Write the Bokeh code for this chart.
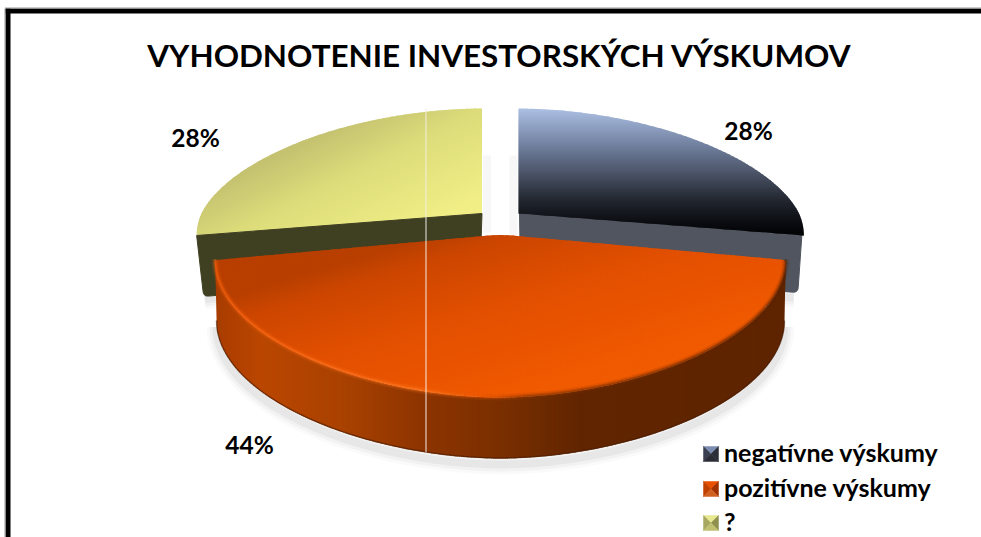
import numpy as np
from bokeh.plotting import figure
from bokeh.embed import file_html
from bokeh.resources import INLINE
from bokeh.core.properties import value

TITLE = "VYHODNOTENIE INVESTORSKÝCH VÝSKUMOV"
categories = ["negatívne výskumy", "pozitívne výskumy", "?"]
values = [28, 44, 28]
pct_labels = ["28%", "44%", "28%"]

FONT = value("Lato")
p = figure(width=981, height=537, x_range=(0, 981), y_range=(537, 0),
           output_backend="svg", toolbar_location=None, min_border=0,
           outline_line_color=None, background_fill_color="white")
p.margin = (0, 0, 0, 0)
p.axis.visible = False
p.grid.visible = False

K, S, RX, E = 0.2135, 127.4, 280.5, 1.07
DEPTH = 59


def hex2rgb(h):
    return np.array([int(h[i:i + 2], 16) for i in (1, 3, 5)], float)


def ramp(stops, t):
    ts = [s[0] for s in stops]
    cs = np.array([hex2rgb(s[1]) for s in stops])
    r = [np.interp(t, ts, cs[:, i]) for i in range(3)]
    return "#%02x%02x%02x" % tuple(int(round(c)) for c in r)


def arc(cx, cy, a0, a1, n=200):
    th = np.radians(np.linspace(a0, a1, n))
    u, v = np.sin(th), -np.cos(th)
    u = np.sign(u) * np.abs(u) ** E
    v = np.sign(v) * np.abs(v) ** E
    w = 1 - K * v
    return cx + RX * u / w, cy + S * v / w


def rounded(xs, ys, idx, r):
    """Replace the polygon corners listed in idx by small quadratic curves."""
    P = np.column_stack([xs, ys]).astype(float)
    n = len(P)
    out = []
    for i in range(n):
        if i in idx:
            a, b, c = P[(i - 1) % n], P[i], P[(i + 1) % n]
            s = b + (a - b) / np.linalg.norm(a - b) * r
            e = b + (c - b) / np.linalg.norm(c - b) * r
            for t in np.linspace(0, 1, 8):
                out.append((1 - t) ** 2 * s + 2 * t * (1 - t) * b + t ** 2 * e)
        else:
            out.append(P[i])
    out = np.array(out)
    return out[:, 0], out[:, 1]


def clip(poly, d, t, keep_above):
    out = []
    n = len(poly)
    for i in range(n):
        a, b = poly[i], poly[(i + 1) % n]
        fa = a[0] * d[0] + a[1] * d[1] - t
        fb = b[0] * d[0] + b[1] * d[1] - t
        if not keep_above:
            fa, fb = -fa, -fb
        if fa >= 0:
            out.append(a)
        if (fa >= 0) != (fb >= 0):
            s = fa / (fa - fb)
            out.append((a[0] + s * (b[0] - a[0]), a[1] + s * (b[1] - a[1])))
    return out


def gradient(xs, ys, d, stops, step=2.0):
    poly = list(zip(xs, ys))
    ts = [x * d[0] + y * d[1] for x, y in poly]
    bx, by, cols = [], [], []
    t = min(ts)
    while t < max(ts):
        c = clip(clip(poly, d, t, True), d, t + step + 1.0, False)
        if len(c) >= 3:
            bx.append([q[0] for q in c])
            by.append([q[1] for q in c])
            cols.append(ramp(stops, t + step / 2))
        t += step
    p.patches(bx, by, fill_color=cols, line_color=None)


def soft_shadow(xs, ys, dy=6):
    for w, a in ((20, 0.02), (14, 0.03), (8, 0.045)):
        p.line(xs, np.asarray(ys) + dy, line_color="black", line_width=w, line_alpha=a)


# angles from the data
cum = np.cumsum([0] + values) / sum(values) * 360.0
a_blue = (cum[0], cum[1])
a_orange = (cum[1], cum[2])
a_yellow = (cum[2], cum[3])

# ---------- yellow slice
YX, YY = 481.5, 213
ax, ay = arc(YX, YY, *a_yellow)
top_x = np.r_[YX, ax]
top_y = np.r_[YY, ay]
ex, ey = ax[0], ay[0]
side_x = [YX, ex, ex + 7, YX - 2]
side_y = [YY, ey, ey + DEPTH + 2, YY + DEPTH]
side_x, side_y = rounded(side_x, side_y, {2}, 5)
soft_shadow([ex + 8, ex + 60], [ey + DEPTH, ey + DEPTH - 6], dy=5)
p.line([YX + 5, YX + 5], [155, 232], line_color="black", line_width=8, line_alpha=0.03)
gradient(top_x, top_y, (0.5, 1.0),
         [(268, "#c2bf6c"), (295, "#c5c270"), (348, "#dcdc7a"), (435, "#f0ee85")])
p.patch(side_x, side_y, fill_color="#3f3f22", line_color="#3f3f22", line_width=1)

# ---------- blue slice
BX, BY = 518, 213
ax, ay = arc(BX, BY, *a_blue)
top_x = np.r_[BX, ax]
top_y = np.r_[BY, ay]
ex, ey = ax[-1] - 2, ay[-1]
side_x = [BX + 1, ex, ex - 4, BX + 2]
side_y = [BY, ey, ey + DEPTH - 2, BY + DEPTH]
side_x, side_y = rounded(side_x, side_y, {2}, 5)
soft_shadow([ex - 40, ex - 8], [ey + DEPTH - 2, ey + DEPTH - 2], dy=5)
p.line([BX - 5, BX - 5], [155, 235], line_color="black", line_width=8, line_alpha=0.03)
p.patch(side_x, side_y, fill_color="#50555f", line_color="#50555f", line_width=1)
gradient(top_x, top_y, (0, 1.0),
         [(108, "#acc0e4"), (140, "#7888a8"), (173, "#4a5366"), (200, "#22262f"),
          (223, "#0a0b10"), (238, "#000000")])

# ---------- orange slice
OX, OY = 500, 235
ax, ay = arc(OX, OY, *a_orange)
ay = ay + 2.5 * (np.abs(ax - OX) / 285) ** 4  # ends of the front arc sit slightly lower
soft_shadow(OX + (ax - OX) * 0.995, ay + DEPTH + 3, dy=5)
lx, ly = ax[::-1], ay[::-1] + DEPTH + 2
side_x = np.r_[ax, OX + (lx - OX) * 0.995]
side_y = np.r_[ay, ly]
gradient(side_x, side_y, (1.0, 0),
         [(215, "#a83c00"), (260, "#ba4600"), (340, "#aa4200"), (425, "#8c3400"),
          (500, "#7a2f00"), (580, "#612500"), (790, "#5e2400")])
# dark contour along the foot of the side
fx = OX + (ax - OX) * 0.995
p.line(fx, ay + DEPTH + 1.5, line_color="#4a1c00", line_width=1.5, line_alpha=0.6)
ox, oy = np.r_[OX, ax], np.r_[OY - 1, ay]
ox, oy = rounded(ox, oy, {0}, 12)
ox, oy = rounded(ox, oy, {8, len(ox) - 1}, 4)
gradient(ox, oy, (0.3, 1.0),
         [(364, "#b83f00"), (390, "#cc4600"), (457, "#e35000"), (494, "#e85300"),
          (545, "#f05a00"), (600, "#f25c00")])
# soft rim along the front edge of the top face
for ww, al in ((7, 0.15), (4, 0.25), (2, 0.5)):
    sx, sy, sc = [], [], []
    for i in range(0, len(ax) - 1):
        sx.append([ax[i], ax[i + 1]])
        sy.append([ay[i] - 0.5, ay[i + 1] - 0.5])
        sc.append(ramp([(215, "#ff6510"), (420, "#ff7a25"), (490, "#e85500"),
                        (530, "#8a3500"), (790, "#5e2400")], ax[i]))
    p.multi_line(sx, sy, line_color=sc, line_width=ww, line_alpha=al)

# thin pale vertical line across the pie
p.line([425.5, 425.5], [108, 452], line_color="#f4ece4", line_width=1)

# ---------- frame
p.line([5, 981], [10.5, 10.5], line_color="black", line_width=5)
p.line([7.5, 7.5], [8, 537], line_color="black", line_width=5)
p.line([4.5, 981], [7.5, 7.5], line_color="#999999", line_width=1)
p.line([4.5, 4.5], [8, 537], line_color="#999999", line_width=1)

# ---------- texts
p.text([499], [54], text=[TITLE], text_font=FONT, text_font_style="bold",
       text_font_size="31.4px", text_align="center", text_baseline="middle", text_color="black")
p.text([195, 249, 748], [137, 444, 130],
       text=[pct_labels[2], pct_labels[1], pct_labels[0]], text_font=FONT, text_font_style="bold",
       text_font_size="24.5px", text_align="center", text_baseline="middle", text_color="black")

# ---------- legend
leg_y = [453.5, 488.5, 522.5]
leg_cols = [("#7a8db0", "#3a4050", "#2a2f3a", "#2a2d36"),
            ("#e85000", "#c04000", "#a03000", "#d06020"),
            ("#e8e890", "#a8a860", "#90904f", "#c0c070")]
for y, c in zip(leg_y, leg_cols):
    x0, x1, y0, y1, xm = 703, 718, y - 7.5, y + 7.5, 710.5
    p.patches([[x0, x1, xm], [x0, xm, x0], [x1, xm, x1], [x0, x1, xm]],
              [[y0, y0, y], [y0, y, y1], [y0, y, y1], [y1, y1, y]],
              fill_color=[c[0], c[1], c[2], c[3]], line_color=[c[0], c[1], c[2], c[3]], line_width=0.5)
p.text([723.5] * 3, [y - 2.5 for y in leg_y], text=categories, text_font=FONT, text_font_style="bold",
       text_font_size="25px", text_align="left", text_baseline="middle", text_color="black")

open("out.html", "w").write(file_html(p, INLINE))
